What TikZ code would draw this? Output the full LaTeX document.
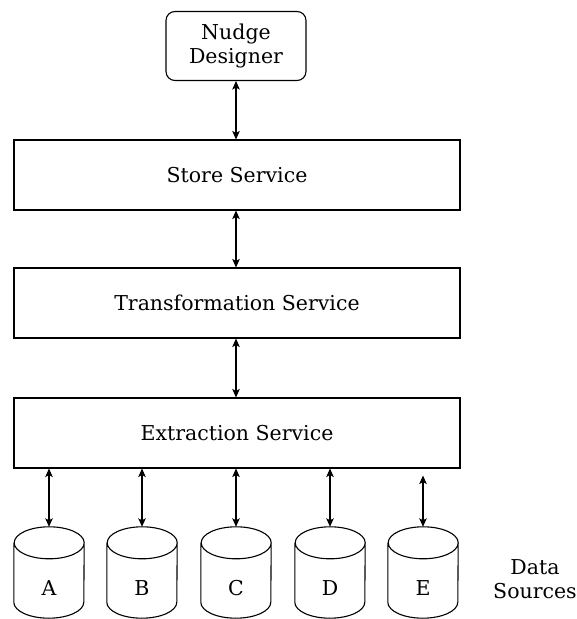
\documentclass[tikz,border=0pt]{standalone}
\usepackage{fontspec}
\setmainfont{DejaVu Serif}
\usetikzlibrary{arrows.meta}
\begin{document}
\begin{tikzpicture}[x=1pt,y=1pt,
  font=\fontsize{20.5}{24}\selectfont,
  service/.style={draw,line width=1.1pt,minimum width=446pt,minimum height=70pt,inner sep=0pt},
  ui/.style={draw,line width=1.1pt,rounded corners=9pt,minimum width=140pt,minimum height=69pt,align=center,inner sep=0pt},
  dbarea/.style={minimum width=70pt,minimum height=91pt,inner sep=0pt},
  dbline/.style={line width=1.1pt},
  link/.style={line width=1.1pt,{Stealth[length=8.5pt,width=7.5pt,inset=2pt]}-{Stealth[length=8.5pt,width=7.5pt,inset=2pt]}}
]
\useasboundingbox (0,0) rectangle (577,619);
\node[ui] (nd) at (236,573) {Nudge\\Designer};
\node[service] (st) at (237,444) {Store Service};
\node[service] (tr) at (237,316) {Transformation Service};
\node[service] (ex) at (237,186) {Extraction Service};
% data source cylinders
\foreach \n/\t/\cx in {a/A/49,b/B/142,c/C/236,d/D/330,e/E/423}{
  \node[dbarea] (\n) at (\cx,46.5) {};
  \draw[dbline] ([yshift=-16pt]\n.north west)
      -- ([yshift=16pt]\n.south west)
      arc[start angle=180,end angle=360,x radius=35pt,y radius=16pt]
      -- ([yshift=-16pt]\n.north east)
      arc[start angle=0,end angle=180,x radius=35pt,y radius=16pt]
      arc[start angle=180,end angle=360,x radius=35pt,y radius=16pt];
  \node (\n-label) at ([yshift=-15.5pt]\n.center) {\t};
}
\node[align=center] (ds) at (535,40) {Data\\Sources};
\draw[link] (nd.south) -- (st.north -| nd.south);
\draw[link] (st.south -| nd.south) -- (tr.north -| nd.south);
\draw[link] (tr.south -| nd.south) -- (ex.north -| nd.south);
\foreach \n in {a,b,c,d}
  \draw[link] (ex.south -| \n.north) -- (\n.north);
\draw[link] ([yshift=-7pt]ex.south -| e.north) -- (e.north);
\end{tikzpicture}
\end{document}
